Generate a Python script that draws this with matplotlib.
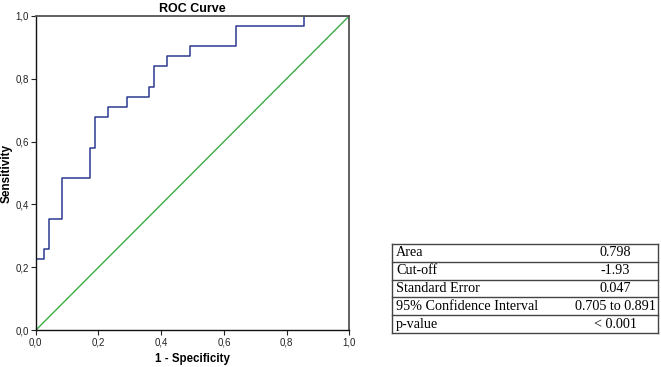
import matplotlib
matplotlib.use("Agg")
import matplotlib.pyplot as plt
import numpy as np

plt.rcParams['font.family'] = ['Liberation Sans', 'DejaVu Sans']

# ROC corner points
fpr = [0.0, 0.0, 0.0275, 0.0275, 0.0435, 0.0435, 0.085, 0.085, 0.173, 0.173,
       0.189, 0.189, 0.232, 0.232, 0.290, 0.290, 0.361, 0.361, 0.376, 0.376,
       0.420, 0.420, 0.493, 0.493, 0.639, 0.639, 0.855, 0.855, 1.0]
tpr = [0.0, 0.226, 0.226, 0.258, 0.258, 0.355, 0.355, 0.484, 0.484, 0.581,
       0.581, 0.677, 0.677, 0.710, 0.710, 0.742, 0.742, 0.774, 0.774, 0.839,
       0.839, 0.871, 0.871, 0.903, 0.903, 0.968, 0.968, 1.0, 1.0]

ticks = [0.0, 0.2, 0.4, 0.6, 0.8, 1.0]
tick_labels = ["0,0", "0,2", "0,4", "0,6", "0,8", "1,0"]

stat_names = ["Area", "Cut-off", "Standard Error", "95% Confidence Interval", "p-value"]
stat_values = ["0.798", "-1.93", "0.047", "0.705 to 0.891", "< 0.001"]

fig = plt.figure(figsize=(6.61, 3.67), dpi=100)
ax = fig.add_axes([0.054, 0.100, 0.4745, 0.857])

ax.plot([0, 1], [0, 1], color="#3aad45", lw=1.0)
ax.plot(fpr, tpr, color="#2b3a8f", lw=1.1)

ax.set_xlim(0, 1)
ax.set_ylim(0, 1)
ax.set_xticks(ticks)
ax.set_xticklabels(tick_labels)
ax.set_yticks(ticks)
ax.set_yticklabels(tick_labels)
ax.tick_params(direction="out", length=3.5, width=0.8, labelsize=7, pad=1.5,
               colors="#222222")

for side in ["left", "bottom"]:
    ax.spines[side].set_color("#111111")
    ax.spines[side].set_linewidth(1.0)
for side in ["top", "right"]:
    ax.spines[side].set_color("#555555")
    ax.spines[side].set_linewidth(1.3)

ax.set_title("ROC Curve", fontsize=9, fontweight="bold", pad=3)
ax.set_xlabel("1 - Specificity", fontsize=8.3, fontweight="bold", labelpad=4)
ax.set_ylabel("Sensitivity", fontsize=8.5, fontweight="bold")
ax.yaxis.set_label_coords(-0.072, 0.5)

# statistics table
W, H = 661.0, 367.0
x0, x1 = 391.5 / W, 658 / W
y_top, row_h = 244 / H, 17.8 / H
n = len(stat_names)
for i in range(n + 1):
    y = 1 - y_top - i * row_h
    fig.add_artist(plt.Line2D([x0, x1], [y, y], color="#444444", lw=1.0))
for x in [x0, x1]:
    fig.add_artist(plt.Line2D([x, x], [1 - y_top, 1 - y_top - n * row_h],
                              color="#444444", lw=1.0))
for i, (name, val) in enumerate(zip(stat_names, stat_values)):
    yc = 1 - y_top - (i + 0.5) * row_h
    fig.text(396 / W, yc, name, family="Liberation Serif", fontsize=10.2,
             va="center", ha="left")
    fig.text(615 / W, yc, val, family="Liberation Serif", fontsize=10.2,
             va="center", ha="center")

fig.savefig("out.png", dpi=100)
